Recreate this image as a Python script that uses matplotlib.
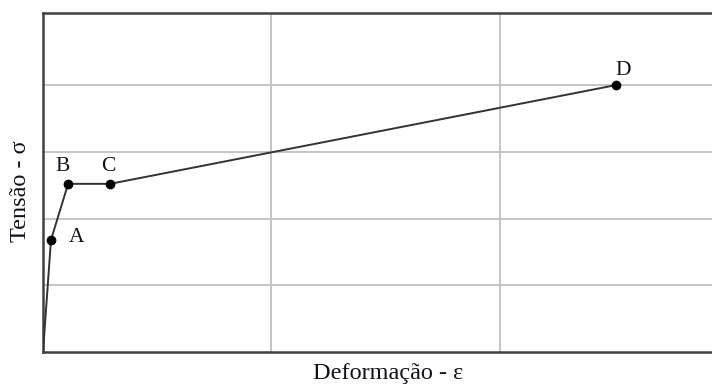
import matplotlib.pyplot as plt

# points of the stress-strain curve (O, A, B, C, D)
deformacao = [0.0, 0.035, 0.11, 0.294, 2.51]
tensao = [0.0, 1.68, 2.52, 2.52, 4.0]
rotulos = ['', 'A', 'B', 'C', 'D']
# label offsets in pixels (label centre relative to the point)
rotulo_offset = [(0, 0), (26, 2), (-6, 17), (-2, 17), (7, 15)]

plt.rcParams['font.family'] = ['Liberation Serif', 'DejaVu Serif']

fig = plt.figure(figsize=(7.12, 3.85), dpi=100)
ax = fig.add_axes([43 / 712, 33 / 385, 1 - 43 / 712, (352 - 13) / 385])

ax.set_xlim(0, 2.93)
ax.set_ylim(0, 5.08)
ax.set_xticks([1, 2])
ax.set_yticks([1, 2, 3, 4])
ax.tick_params(length=0, labelbottom=False, labelleft=False)
ax.grid(True, color='#c4c4c4', linewidth=1.4)
ax.set_axisbelow(True)

for side in ['left', 'bottom', 'top']:
    ax.spines[side].set_color('#404040')
    ax.spines[side].set_linewidth(1.8)
ax.spines['right'].set_visible(False)

ax.plot(deformacao, tensao, color='#333333', linewidth=1.4, zorder=3)
ax.plot(deformacao[1:], tensao[1:], 'o', color='black', markersize=6, zorder=4)

for x, y, txt, (dx, dy) in zip(deformacao, tensao, rotulos, rotulo_offset):
    if txt:
        ax.annotate(txt, (x, y), xytext=(dx * 0.72, dy * 0.72),
                    textcoords='offset points', ha='center', va='center',
                    fontsize=15.5, color='#111118')

fig.text(388 / 712, 1 - 373 / 385, 'Deformação - ε', ha='center', va='center',
         fontsize=17.5, color='#111118')
fig.text(21 / 712, 1 - 191 / 385, 'Tensão - σ', ha='center', va='center',
         rotation=90, fontsize=17.5, color='#111118')

fig.savefig('out.png', dpi=100)
